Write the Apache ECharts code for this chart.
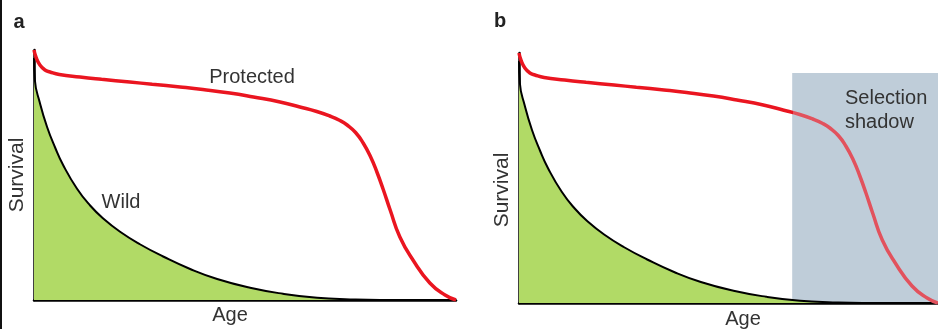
<!DOCTYPE html>
<html>
<head>
<meta charset="utf-8">
<script src="https://cdn.jsdelivr.net/npm/echarts@6/dist/echarts.min.js"></script>
<style>
  html, body { margin: 0; padding: 0; background: #fff; }
  #chart { width: 938px; height: 329px; }
</style>
</head>
<body>
<div id="chart"></div>
<script>
// survival curves, x = age (0-100), y = survival (0-100)
var protectedCurve = [
  [0, 100], [0.5, 97], [1.4, 94], [2.6, 92], [3.8, 91.2], [6, 90.2], [10.9, 89.2],
  [16, 88.3], [22.7, 87.2], [28, 86.3], [34.6, 85.2], [40, 84.2], [46.4, 82.8],
  [52, 81.2], [58.3, 79.2], [63, 77.2], [67, 75.4], [70.1, 73.6], [72.5, 71.8],
  [74.2, 70], [76.2, 67], [78, 62.8], [79.7, 57.5], [81.3, 51], [82.8, 44],
  [84.4, 36], [86.7, 25.2], [89.8, 16], [93.8, 6.8], [97.4, 2], [100, 0]
];
var wildCurve = [
  [0, 96.8], [0.2, 88], [1.4, 78.8], [3.1, 69.2], [5, 61], [6.9, 54], [10.2, 44.5],
  [13.3, 37.8], [16.4, 32.6], [20.4, 27.3], [25.1, 22.3], [30.6, 17.4], [37, 12.4],
  [43.4, 8.4], [51.2, 4.9], [59, 2.5], [67.1, 0.9], [74.9, 0.25], [82, 0], [100, 0]
];
var shadowStart = 65.2;   // age where the selection shadow begins
var shadowTop = 92;
var panelLetters = ['a', 'b'];

var red = '#ea1520';
var redInShadow = '#e2525d';
var green = '#b1da66';
var txt = '#333333';
var font = '"Liberation Sans", Arial, sans-serif';

var chart = echarts.init(document.getElementById('chart'));

function axisOpt(idx) {
  return {
    type: 'value', gridIndex: idx, min: 0, max: 100,
    axisLine: { show: true, onZero: false, lineStyle: { color: '#000', width: 2.5 } },
    axisTick: { show: false },
    axisLabel: { show: false },
    splitLine: { show: false }
  };
}

function label(text, x, y, size, opts) {
  opts = opts || {};
  return {
    type: 'text', x: x, y: y, rotation: opts.rotation || 0, z: 100,
    style: {
      text: text, fill: opts.color || txt,
      font: (opts.bold ? 'bold ' : '') + size + 'px ' + font,
      textAlign: opts.align || 'center', textVerticalAlign: 'middle',
      lineHeight: opts.lineHeight
    }
  };
}

// red turns paler once it enters the shadow (line spans the full x range)
var redB = new echarts.graphic.LinearGradient(0, 0, 1, 0, [
  { offset: 0, color: red },
  { offset: shadowStart / 100, color: red },
  { offset: shadowStart / 100, color: redInShadow },
  { offset: 1, color: redInShadow }
]);

chart.setOption({
  animation: false,
  grid: [
    { left: 34, right: 482, top: 50, bottom: 29 },
    { left: 519, right: 0, top: 53, bottom: 26 }
  ],
  xAxis: [axisOpt(0), axisOpt(1)],
  yAxis: [axisOpt(0), axisOpt(1)],
  series: [
    {
      type: 'line', xAxisIndex: 0, yAxisIndex: 0, data: wildCurve, smooth: true,
      symbol: 'none', z: 2,
      lineStyle: { color: '#000', width: 2 },
      areaStyle: { color: green, opacity: 1 }
    },
    {
      type: 'line', xAxisIndex: 0, yAxisIndex: 0, data: protectedCurve, smooth: true,
      symbol: 'none', z: 3,
      lineStyle: { color: red, width: 3.5 }
    },
    {
      // selection shadow
      type: 'line', xAxisIndex: 1, yAxisIndex: 1, data: [], z: 1,
      markArea: {
        silent: true,
        itemStyle: { color: '#bfcdd9' },
        data: [[{ coord: [shadowStart, shadowTop] }, { coord: [100, 0] }]]
      }
    },
    {
      type: 'line', xAxisIndex: 1, yAxisIndex: 1, data: wildCurve, smooth: true,
      symbol: 'none', z: 2,
      lineStyle: { color: '#000', width: 2 },
      areaStyle: { color: green, opacity: 1 }
    },
    {
      type: 'line', xAxisIndex: 1, yAxisIndex: 1, data: protectedCurve, smooth: true,
      symbol: 'none', z: 3,
      lineStyle: { color: redB, width: 3.5 }
    }
  ],
  graphic: [
    { type: 'rect', shape: { x: 0, y: 0, width: 2, height: 329 }, style: { fill: '#111' }, z: 100 },
    label(panelLetters[0], 19, 22, 20, { bold: true, color: '#222' }),
    label(panelLetters[1], 500, 21, 20, { bold: true, color: '#222' }),
    label('Survival', 17, 175, 21, { rotation: Math.PI / 2 }),
    label('Survival', 502, 190, 21, { rotation: Math.PI / 2 }),
    label('Age', 230, 315, 20),
    label('Age', 743, 319, 20),
    label('Protected', 252, 77, 20),
    label('Wild', 121, 202, 20),
    label('Selection\nshadow', 845, 110, 20, { align: 'left', lineHeight: 24 })
  ]
});
</script>
</body>
</html>
